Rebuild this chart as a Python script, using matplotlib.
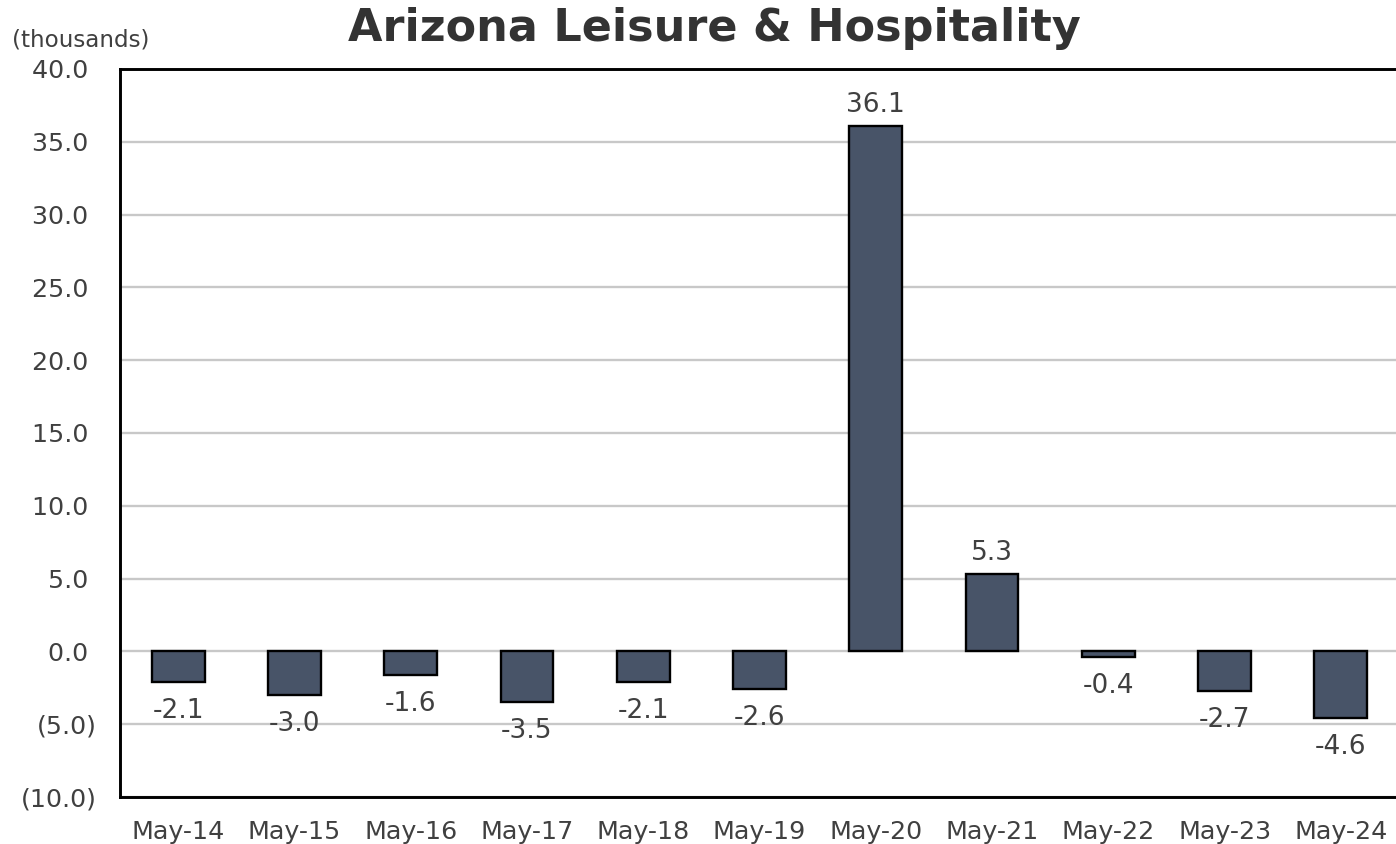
import matplotlib
matplotlib.use("Agg")
import matplotlib.pyplot as plt
from matplotlib.ticker import FuncFormatter, MultipleLocator

categories = ["May-14", "May-15", "May-16", "May-17", "May-18", "May-19",
              "May-20", "May-21", "May-22", "May-23", "May-24"]
values = [-2.1, -3.0, -1.6, -3.5, -2.1, -2.6, 36.1, 5.3, -0.4, -2.7, -4.6]

W, H = 1396, 844
fig = plt.figure(figsize=(W / 100, H / 100), dpi=100)
ax = fig.add_axes([120 / W, (H - 797) / H, (1399 - 120) / W, (797 - 69) / H])

text_color = "#404040"
bar_color = "#485468"

x = range(len(categories))
ax.bar(x, values, width=0.455, color=bar_color, edgecolor="black", linewidth=1.7, zorder=3)

ax.set_xlim(-0.5, len(categories) - 0.5)
ax.set_ylim(-10, 40)
ax.yaxis.set_major_locator(MultipleLocator(5))

def fmt(v, pos):
    if v < 0:
        return f"({abs(v):.1f})"
    return f"{v:.1f} "

ax.yaxis.set_major_formatter(FuncFormatter(fmt))
ax.set_xticks(list(x))
ax.set_xticklabels(categories)
ax.tick_params(axis="both", length=0, labelsize=18.3, labelcolor=text_color)
ax.tick_params(axis="x", pad=16.5)
ax.tick_params(axis="y", pad=17)

ax.grid(axis="y", color="#c8c8c8", linewidth=1.7, zorder=0)
ax.set_axisbelow(True)
for side in ["left", "top", "bottom", "right"]:
    ax.spines[side].set_color("black")
    ax.spines[side].set_linewidth(2.1)

for xi, v in zip(x, values):
    off = 21 if v >= 0 else -29
    ax.annotate(f"{v:.1f}", xy=(xi, v), xytext=(0, off * 0.72), textcoords="offset points",
                ha="center", va="center", fontsize=19, color=text_color, zorder=4)

fig.text(714 / W, 1 - 29 / H, "Arizona Leisure & Hospitality", ha="center", va="center",
         fontsize=32, fontweight="bold", color="#333333")
fig.text(12 / W, 1 - 40 / H, "(thousands)", ha="left", va="center", fontsize=16.6, color=text_color)

fig.savefig("out.png", dpi=100)
